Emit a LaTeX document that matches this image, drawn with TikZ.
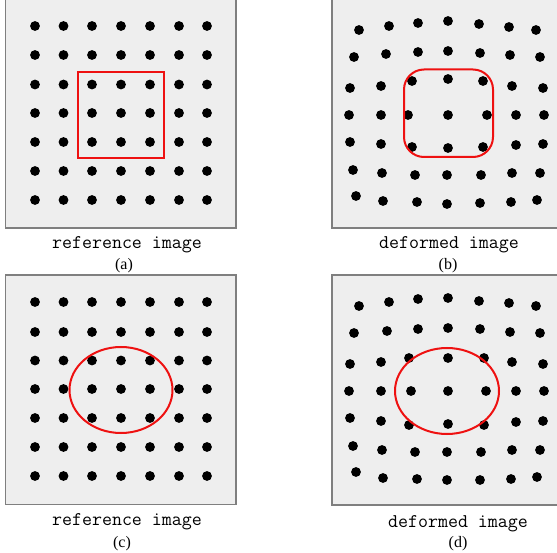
\documentclass[tikz,border=0pt]{standalone}
\usepackage{fontspec}
\setmainfont{Liberation Serif}
\definecolor{panelfill}{HTML}{EEEEEE}
\definecolor{panelline}{HTML}{7F7F7F}
\definecolor{roired}{HTML}{EE1111}
\begin{document}
\begin{tikzpicture}[x=1pt,y=-1pt,
  panel/.style={fill=panelfill,draw=panelline,line width=1.5pt},
  roi/.style={draw=roired,line width=2pt},
  blackdot/.style={fill=black},
  captxt/.style={font=\ttfamily\fontsize{19.4}{19.4}\selectfont,inner sep=0pt,anchor=base},
  subtxt/.style={font=\fontsize{16}{16}\selectfont,inner sep=0pt,anchor=base}]
\useasboundingbox (0,0) rectangle (557,553);
\fill[white] (0,0) rectangle (557,553);
% panels
\draw[panel] (5.5,-2) rectangle (236,228);
\draw[panel] (332,-2) rectangle (560,228);
\draw[panel] (5.5,275) rectangle (236,504.5);
\draw[panel] (332,275) rectangle (560,505);
% (a) regular grid
\foreach \x in {35,63.5,92,121,150,179,207}
  \foreach \y in {26,55,84.5,113,142,171,200}
    \fill[blackdot] (\x,\y) circle (4.9);
\draw[roi] (78,72) rectangle (164,158);
% (c) regular grid
\foreach \x in {35,63.5,92,121,150,179,207}
  \foreach \y in {302,332,360.5,389,418,447,476}
    \fill[blackdot] (\x,\y) circle (4.9);
\draw[roi] (121,390) ellipse (51.5 and 43);
% (b) deformed grid
\foreach \p in {
  (359,30),(389,26),(418,23),(448,21),(479,24),(509,27),(536,30),
  (354,57),(386,54),(418,52),(448,51),(480,53),(510,55),(540,57),
  (350,88),(381,86),(412,81),(448,79),(483,81),(512,86),(543,88),
  (349,115),(381,115),(408,115),(448,115),(487,115),(516,115),(544,115),
  (350,142),(381,144),(412,147),(448,148),(483,147),(516,145),(543,144),
  (353,170),(382,173),(415,175),(447,175),(481,175),(512,173),(540,173),
  (356,196),(383,201),(417,202),(447,204),(480,203),(511,202),(537,200)}
  \fill[blackdot] \p circle (4.9);
\draw[roi,rounded corners=20pt] (404,69.5) rectangle (493,157);
% (d) deformed grid
\foreach \p in {
  (359,306),(389,302),(418,299),(448,298),(479,301),(509,303),(536,306),
  (354,333),(387,331),(418,329),(448,328),(480,329),(510,332),(540,333),
  (350,364),(381,362),(409,358),(448,358),(484,358),(512,362),(543,364),
  (349,391),(381,391),(411,391),(448,391),(486,391),(516,391),(544,391),
  (350,418),(381,421),(409,425),(448,424),(484,425),(516,422),(543,421),
  (353,446),(382,450),(415,452),(447,452),(481,452),(512,450),(540,450),
  (356,472),(383,478),(417,479),(447,480),(480,480),(511,479),(537,477)}
  \fill[blackdot] \p circle (4.9);
\draw[roi] (447,391) ellipse (52 and 43);
% captions
\node[captxt] (capa) at (127,249) {reference image};
\node[subtxt] (suba) at (124,270) {(a)};
\node[captxt] (capb) at (449,249) {deformed image};
\node[subtxt] (subb) at (448,270) {(b)};
\node[captxt] (capc) at (127,525) {reference image};
\node[subtxt] (subc) at (122,547) {(c)};
\node[captxt] (capd) at (458,527) {deformed image};
\node[subtxt] (subd) at (458,547) {(d)};
\end{tikzpicture}
\end{document}
